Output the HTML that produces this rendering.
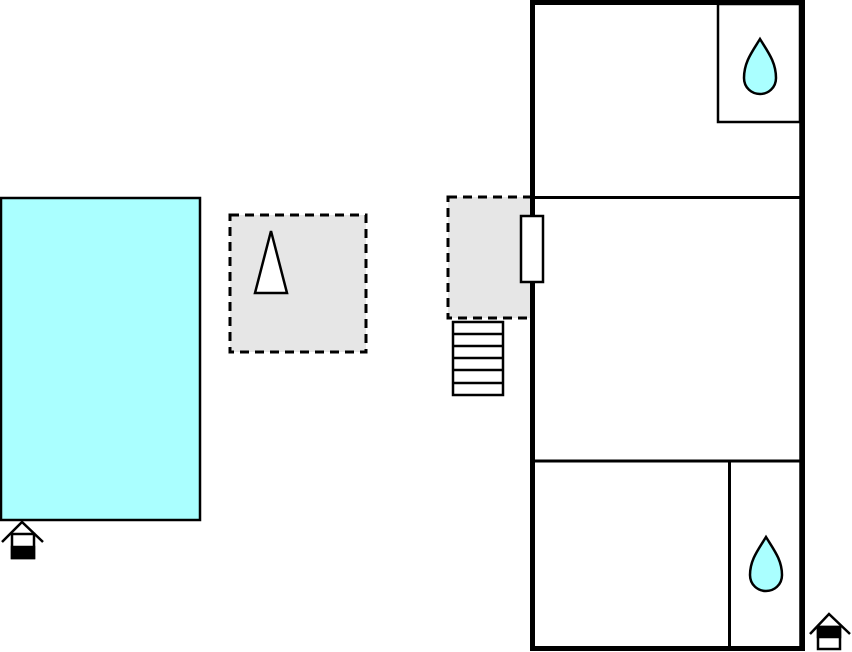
<!DOCTYPE html>
<html><head><style>html,body{margin:0;padding:0;background:#fff;}svg{display:block}</style></head>
<body>
<svg width="852" height="652" viewBox="0 0 852 652" xmlns="http://www.w3.org/2000/svg">
<rect x="1" y="198" width="199" height="322" fill="#aaffff" stroke="#000" stroke-width="2.5"/>
<rect x="230" y="215" width="136" height="137" fill="#e6e6e6" stroke="#000" stroke-width="3" stroke-dasharray="9,6"/>
<polygon points="271,231 255,293 287,293" fill="#fff" stroke="#000" stroke-width="2.5"/>
<rect x="448" y="197" width="84" height="121" fill="#e6e6e6" stroke="#000" stroke-width="3" stroke-dasharray="9,6"/>
<g fill="#fff" stroke="#000" stroke-width="2.5">
<rect x="453" y="322" width="50" height="73"/>
<line x1="453" y1="334" x2="503" y2="334"/><line x1="453" y1="346" x2="503" y2="346"/><line x1="453" y1="358" x2="503" y2="358"/><line x1="453" y1="370" x2="503" y2="370"/><line x1="453" y1="383" x2="503" y2="383"/>
</g>
<rect x="532.5" y="2.5" width="270" height="646" fill="none" stroke="#000" stroke-width="5"/>
<line x1="800" y1="5" x2="800" y2="646" stroke="#000" stroke-width="1.5"/>
<rect x="718" y="4" width="82" height="118" fill="none" stroke="#000" stroke-width="2.5"/>
<line x1="534" y1="197.5" x2="801" y2="197.5" stroke="#000" stroke-width="3"/>
<line x1="534" y1="461" x2="801" y2="461" stroke="#000" stroke-width="3"/>
<line x1="729.5" y1="461" x2="729.5" y2="647" stroke="#000" stroke-width="3"/>
<rect x="521" y="216" width="22" height="66" fill="#fff" stroke="#000" stroke-width="2.5"/>
<path d="M760,39 C752,52 744,62 744,78 C744,88 752,94 760,94 C768,94 776,88 776,78 C776,62 768,52 760,39 Z" fill="#aaffff" stroke="#000" stroke-width="2.5"/>
<path d="M766,537 C758,550 750,560 750,575 C750,585 758,591 766,591 C774,591 782,585 782,575 C782,560 774,550 766,537 Z" fill="#aaffff" stroke="#000" stroke-width="2.5"/>
<g stroke="#000" stroke-width="2.5" fill="none">
<polyline points="2,542 22,522 43,542"/>
<rect x="12" y="534" width="22" height="24" fill="#fff"/>
<rect x="12" y="547" width="22" height="11" fill="#000"/>
<polyline points="810,634 829,614 850,634"/>
<rect x="818" y="627" width="22" height="22" fill="#fff"/>
<rect x="818" y="627" width="22" height="10" fill="#000"/>
</g>
</svg>
</body></html>
